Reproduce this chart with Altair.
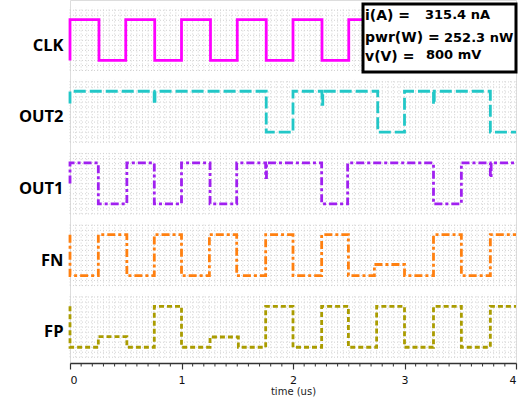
import altair as alt
import pandas as pd

# ---------------- data ----------------
signals = ["FP", "FN", "OUT1", "OUT2", "CLK"]          # bottom -> top

CLK_init = 0
CLK_t = [0, 0.26, 0.5, 0.76, 1.0, 1.26, 1.5, 1.76, 2.0, 2.26, 2.5, 2.76, 3.0, 3.26, 3.5, 3.76]
CLK_v = [1, 0, 1, 0, 1, 0, 1, 0, 1, 0, 1, 0, 1, 0, 1, 0]

OUT2_init = 0.7
OUT2_t = [0, 0.755, 0.762, 1.76, 2.0, 2.26, 2.267, 2.76, 3.0, 3.26, 3.267, 3.77]
OUT2_v = [1, 0.68, 1, 0, 1, 0.68, 1, 0, 1, 0.68, 1, 0]

OUT1_init = 0.5
OUT1_t = [0, 0.254, 0.51, 0.756, 1.0, 1.256, 1.495, 1.755, 1.762, 2.257, 2.49, 3.26, 3.51, 3.77, 3.777]
OUT1_v = [1, 0, 1, 0, 1, 0, 1, 0.64, 1, 0, 1, 0, 1, 0.64, 1]

FN_init = 1
FN_t = [0, 0.254, 0.51, 0.756, 1.0, 1.25, 1.495, 1.755, 2.0, 2.257, 2.497, 2.73, 3.0, 3.26, 3.51, 3.77]
FN_v = [0, 1, 0, 1, 0, 1, 0, 1, 0, 1, 0, 0.27, 0, 1, 0, 1]

FP_init = 1
FP_t = [0, 0.254, 0.51, 0.756, 1.0, 1.256, 1.51, 1.755, 2.0, 2.257, 2.497, 2.75, 3.0, 3.26, 3.51, 3.77]
FP_v = [0, 0.26, 0, 1, 0, 0.25, 0, 1, 0, 1, 0, 1, 0, 1, 0, 1]

T_END = 4.0

major_ticks = [0, 1, 2, 3, 4]
minor_ticks = [round(0.1 * k, 1) for k in range(41) if k % 10 != 0]

box_lines = ["i(A) =", "pwr(W) =", "v(V) ="]
box_values = ["315.4 nA", "252.3 nW", "800 mV"]

# ---------------- layout constants ----------------
W, H = 446, 363
LOW, SPAN = 0.22, 0.57          # level 0 / level 1 offset inside a panel unit
YMAX = 5.063

colors = {"CLK": "#ff00ff", "OUT2": "#22c7c7", "OUT1": "#a020f0", "FN": "#ff8010", "FP": "#aa9c00"}
dashes = {"CLK": [1, 0], "OUT2": [12, 4], "OUT1": [8, 3, 3, 3], "FN": [8, 3, 3, 3], "FP": [5, 3]}
spec = {
    "CLK": (CLK_init, CLK_t, CLK_v),
    "OUT2": (OUT2_init, OUT2_t, OUT2_v),
    "OUT1": (OUT1_init, OUT1_t, OUT1_v),
    "FN": (FN_init, FN_t, FN_v),
    "FP": (FP_init, FP_t, FP_v),
}


def build(name):
    init, ts, vs = spec[name]
    idx = signals.index(name)
    pts = []
    prev = init
    for t, v in zip(ts, vs):
        pts.append((t, prev))
        pts.append((t, v))
        prev = v
    pts.append((T_END, prev))
    return pd.DataFrame({
        "t": [p[0] for p in pts],
        "y": [idx + LOW + SPAN * p[1] for p in pts],
        "o": list(range(len(pts))),
    })


x_scale = alt.Scale(domain=[0, 4], nice=False, zero=False)
y_scale = alt.Scale(domain=[0, YMAX], nice=False, zero=False)

x_axis = alt.Axis(
    values=major_ticks, format="d", labelOverlap=False,
    title="time (us)", titleFontSize=10, titleFontWeight="normal", titleFont="DejaVu Sans",
    titleColor="#222", titlePadding=1, labelFont="DejaVu Sans", labelFontSize=11, labelColor="#111",
    labelPadding=5, grid=False, domainColor="#333", tickColor="#333", domainWidth=1.5, tickWidth=1.2,
    tickSize=6,
)
y_axis = alt.Axis(
    values=[i + 0.435 for i in range(5)],
    labelExpr="['FP','FN','OUT1','OUT2','CLK'][floor(datum.value)]",
    labelFont="Open Sans", labelFontWeight="bold", labelFontSize=16.5, labelColor="#000",
    domain=False, ticks=False, grid=False, labelPadding=7, title=None,
)


def X(f):
    return alt.X(f, scale=x_scale, axis=x_axis)


def Y(f):
    return alt.Y(f, scale=y_scale, axis=y_axis)


# grid (dotted, per panel)
vg = []
hg = []
for i in range(5):
    for k in range(81):
        vg.append({"x": round(k * 0.05, 3), "y": i + 0.08, "y2": i + 0.96})
    yy = i + 0.08
    while yy <= i + 0.965:
        hg.append({"y": yy, "x": 0, "x2": 4})
        yy += 0.07
grid_col = "#d2d2d2"
axes = alt.Chart(pd.DataFrame({"x": [0, 4], "y": [0, YMAX]})).mark_point(opacity=0).encode(
    x=X("x:Q"), y=Y("y:Q"))
vgrid = alt.Chart(pd.DataFrame(vg)).mark_rule(color=grid_col, strokeWidth=1, strokeDash=[1, 2]).encode(
    x=X("x:Q"), y=Y("y:Q"), y2="y2:Q")
hgrid = alt.Chart(pd.DataFrame(hg)).mark_rule(color=grid_col, strokeWidth=1, strokeDash=[1, 2]).encode(
    y=Y("y:Q"), x=X("x:Q"), x2="x2:Q")
minor = alt.Chart(pd.DataFrame({"x": minor_ticks})).mark_rule(color="#333", strokeWidth=1).encode(
    x=X("x:Q"), y=alt.value(H), y2=alt.value(H + 3.5))

lines = []
for name in signals:
    lines.append(
        alt.Chart(build(name)).mark_line(color=colors[name], strokeWidth=2.8, strokeDash=dashes[name],
                                         strokeCap="butt", strokeJoin="miter").encode(
            x=X("t:Q"), y=Y("y:Q"), order="o:Q",
        )
    )

# annotation box
box = alt.Chart(pd.DataFrame({"a": [0]})).mark_rect(fill="white", stroke="black", strokeWidth=3).encode(
    x=alt.value(293), x2=alt.value(446), y=alt.value(4), y2=alt.value(72))
lab_df = pd.DataFrame({"txt": box_lines, "yy": [16, 38, 57], "xx": [295, 295, 295]})
val_df = pd.DataFrame({"txt": box_values, "yy": [15, 38, 55], "xx": [355, 374, 356]})
box_lab = alt.Chart(lab_df).mark_text(align="left", baseline="middle", font="DejaVu Sans", fontWeight="bold",
                                      fontSize=14, color="black").encode(
    x=alt.X("xx:Q", scale=None), y=alt.Y("yy:Q", scale=None), text="txt:N")
box_val = alt.Chart(val_df).mark_text(align="left", baseline="middle", font="DejaVu Sans", fontWeight="bold",
                                      fontSize=13, color="black").encode(
    x=alt.X("xx:Q", scale=None), y=alt.Y("yy:Q", scale=None), text="txt:N")

chart = alt.layer(axes, vgrid, hgrid, minor, *lines, box, box_lab, box_val).properties(
    width=W, height=H, autosize=alt.AutoSizeParams(type="none"),
    padding={"left": 70, "top": 0, "right": 4, "bottom": 37},
).configure_view(strokeWidth=0).configure(background="white")

chart.save("out.html", embed_options={"renderer": "svg", "actions": False})
